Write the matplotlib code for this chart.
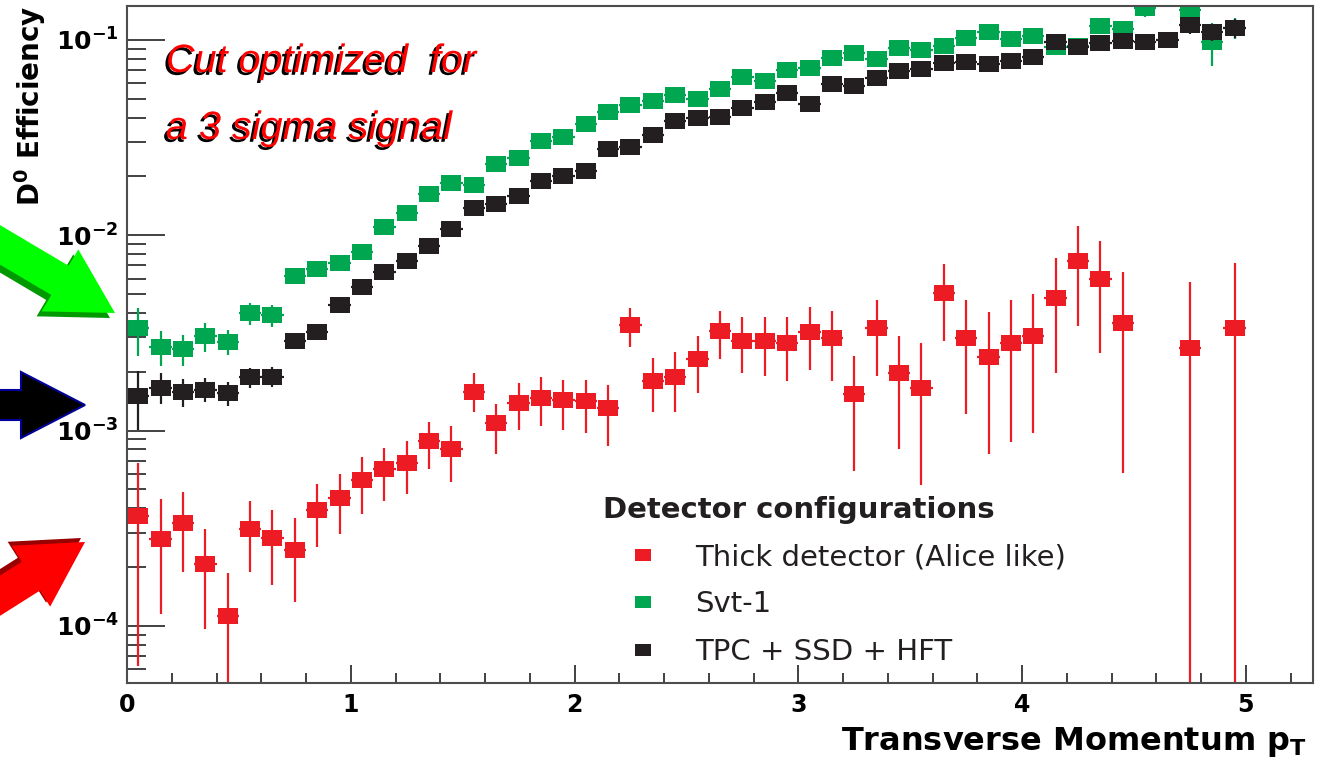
import numpy as np
import matplotlib
matplotlib.use("Agg")
import matplotlib.pyplot as plt
import matplotlib.patheffects as pe
from matplotlib.patches import FancyArrow
from matplotlib.lines import Line2D
from matplotlib.ticker import MultipleLocator, LogLocator, NullFormatter, FuncFormatter

# bin centres (GeV/c)
pt = [0.05, 0.15, 0.25, 0.35, 0.45, 0.55, 0.65, 0.75, 0.85, 0.95,
      1.05, 1.15, 1.25, 1.35, 1.45, 1.55, 1.65, 1.75, 1.85, 1.95,
      2.05, 2.15, 2.25, 2.35, 2.45, 2.55, 2.65, 2.75, 2.85, 2.95,
      3.05, 3.15, 3.25, 3.35, 3.45, 3.55, 3.65, 3.75, 3.85, 3.95,
      4.05, 4.15, 4.25, 4.35, 4.45, 4.55, 4.65, 4.75, 4.85, 4.95]

# Svt-1
svt_eff = [3.33e-3, 2.69e-3, 2.60e-3, 3.03e-3, 2.85e-3, 4.0e-3, 3.9e-3, 6.2e-3, 6.75e-3, 7.2e-3,
           8.2e-3, 1.10e-2, 1.30e-2, 1.63e-2, 1.86e-2, 1.81e-2, 2.32e-2, 2.49e-2, 3.04e-2, 3.19e-2,
           3.72e-2, 4.28e-2, 4.65e-2, 4.88e-2, 5.24e-2, 4.99e-2, 5.61e-2, 6.47e-2, 6.17e-2, 7.03e-2,
           7.2e-2, 8.1e-2, 8.6e-2, 8.0e-2, 9.1e-2, 8.89e-2, 9.31e-2, 0.102, 0.110, 0.101,
           0.105, 0.092, 0.093, 0.118, 0.114, 0.146, 0.170, 0.142, 0.0977, 0.115]
svt_rel = [0.28, 0.20, 0.18, 0.17, 0.15, 0.13, 0.13, 0.09, 0.08, 0.08,
           0.07, 0.06, 0.06, 0.05, 0.05, 0.05, 0.05, 0.05, 0.04, 0.04,
           0.04, 0.04, 0.04, 0.04, 0.04, 0.04, 0.04, 0.04, 0.04, 0.04,
           0.04, 0.04, 0.05, 0.05, 0.06, 0.06, 0.06, 0.06, 0.06, 0.07,
           0.07, 0.08, 0.08, 0.09, 0.09, 0.10, 0.10, 0.10, 0.25, 0.12]

# TPC + SSD + HFT
hft_eff = [1.51e-3, 1.66e-3, 1.58e-3, 1.62e-3, 1.56e-3, 1.87e-3, 1.89e-3, 2.88e-3, 3.21e-3, 4.41e-3,
           5.46e-3, 6.50e-3, 7.41e-3, 8.84e-3, 1.08e-2, 1.37e-2, 1.45e-2, 1.59e-2, 1.90e-2, 2.01e-2,
           2.14e-2, 2.77e-2, 2.84e-2, 3.27e-2, 3.85e-2, 3.99e-2, 4.04e-2, 4.49e-2, 4.82e-2, 5.36e-2,
           4.71e-2, 5.96e-2, 5.82e-2, 6.40e-2, 6.94e-2, 7.11e-2, 7.62e-2, 7.71e-2, 7.53e-2, 7.81e-2,
           8.19e-2, 9.77e-2, 9.2e-2, 9.66e-2, 9.89e-2, 9.77e-2, 0.100, 0.119, 0.110, 0.115]
hft_rel = [0.33, 0.18, 0.16, 0.14, 0.14, 0.12, 0.12, 0.09, 0.08, 0.07,
           0.07, 0.06, 0.05, 0.05, 0.05, 0.04, 0.04, 0.04, 0.04, 0.04,
           0.04, 0.04, 0.04, 0.04, 0.04, 0.04, 0.04, 0.04, 0.04, 0.04,
           0.04, 0.04, 0.04, 0.04, 0.04, 0.05, 0.05, 0.05, 0.05, 0.05,
           0.06, 0.07, 0.07, 0.08, 0.08, 0.09, 0.09, 0.10, 0.10, 0.11]

# Thick detector (Alice like) - only filled bins
thick_pt = [0.05, 0.15, 0.25, 0.35, 0.45, 0.55, 0.65, 0.75, 0.85, 0.95,
            1.05, 1.15, 1.25, 1.35, 1.45, 1.55, 1.65, 1.75, 1.85, 1.95,
            2.05, 2.15, 2.25, 2.35, 2.45, 2.55, 2.65, 2.75, 2.85, 2.95,
            3.05, 3.15, 3.25, 3.35, 3.45, 3.55, 3.65, 3.75, 3.85, 3.95,
            4.05, 4.15, 4.25, 4.35, 4.45, 4.75, 4.95]
thick_eff = [3.67e-4, 2.80e-4, 3.38e-4, 2.07e-4, 1.12e-4, 3.15e-4, 2.81e-4, 2.46e-4, 3.94e-4, 4.54e-4,
             5.61e-4, 6.32e-4, 6.86e-4, 8.79e-4, 8.09e-4, 1.58e-3, 1.09e-3, 1.39e-3, 1.47e-3, 1.44e-3,
             1.41e-3, 1.30e-3, 3.48e-3, 1.80e-3, 1.89e-3, 2.31e-3, 3.25e-3, 2.88e-3, 2.88e-3, 2.82e-3,
             3.21e-3, 2.99e-3, 1.53e-3, 3.33e-3, 1.96e-3, 1.66e-3, 5.08e-3, 2.99e-3, 2.39e-3, 2.79e-3,
             3.03e-3, 4.79e-3, 7.41e-3, 6.0e-3, 3.56e-3, 2.66e-3, 3.36e-3]
thick_lo = [6.2e-5, 1.15e-4, 1.88e-4, 9.6e-5, 1e-6, 1.88e-4, 1.61e-4, 1.33e-4, 2.52e-4, 2.94e-4,
            3.76e-4, 4.34e-4, 4.71e-4, 6.39e-4, 5.48e-4, 1.24e-3, 7.54e-4, 1.01e-3, 1.05e-3, 1.01e-3,
            9.66e-4, 8.38e-4, 2.69e-3, 1.24e-3, 1.25e-3, 1.56e-3, 2.31e-3, 1.98e-3, 1.91e-3, 1.80e-3,
            2.05e-3, 1.80e-3, 6.24e-4, 1.91e-3, 8.0e-4, 5.24e-4, 2.88e-3, 1.21e-3, 7.54e-4, 8.78e-4,
            9.66e-4, 1.98e-3, 3.44e-3, 2.48e-3, 6.03e-4, 1e-6, 1e-6]
thick_hi = [6.78e-4, 4.44e-4, 4.82e-4, 3.15e-4, 1.86e-4, 4.34e-4, 3.94e-4, 3.55e-4, 5.30e-4, 5.96e-4,
            7.36e-4, 8.18e-4, 8.89e-4, 1.11e-3, 1.05e-3, 1.96e-3, 1.37e-3, 1.76e-3, 1.87e-3, 1.82e-3,
            1.82e-3, 1.72e-3, 4.26e-3, 2.36e-3, 2.51e-3, 3.03e-3, 4.11e-3, 3.79e-3, 3.79e-3, 3.79e-3,
            4.31e-3, 4.11e-3, 2.42e-3, 4.68e-3, 3.06e-3, 2.79e-3, 7.14e-3, 4.68e-3, 4.02e-3, 4.68e-3,
            5.02e-3, 7.67e-3, 1.12e-2, 9.37e-3, 6.50e-3, 5.78e-3, 7.23e-3]

labels = ["Thick detector (Alice like)", "Svt-1", "TPC + SSD + HFT"]
RED, GREEN, BLACK = "#ED1C24", "#00A650", "#231F20"
bin_half = 0.05

# wide rectangular marker like the stretched ROOT squares
rect = [(-1.35, -1), (1.35, -1), (1.35, 1), (-1.35, 1), (-1.35, -1)]

fig = plt.figure(figsize=(13.22, 7.67), dpi=100)
ax = fig.add_axes([127 / 1322, 84 / 767, 1186 / 1322, 677 / 767])
ax.set_yscale("log")

te = np.array(thick_eff)
ax.errorbar(thick_pt, te, xerr=bin_half,
            yerr=[te - np.array(thick_lo), np.array(thick_hi) - te],
            fmt="none", ecolor=RED, elinewidth=1.6, capsize=0)
ax.plot(thick_pt, te, linestyle="none", marker=rect, ms=15, color=RED, mew=0)

se = np.array(svt_eff)
ax.errorbar(pt, se, xerr=bin_half, yerr=se * np.array(svt_rel),
            fmt="none", ecolor=GREEN, elinewidth=1.6, capsize=0)
ax.plot(pt, se, linestyle="none", marker=rect, ms=15, color=GREEN, mew=0)

he = np.array(hft_eff)
ax.errorbar(pt, he, xerr=bin_half, yerr=he * np.array(hft_rel),
            fmt="none", ecolor=BLACK, elinewidth=1.6, capsize=0)
ax.plot(pt, he, linestyle="none", marker=rect, ms=15, color=BLACK, mew=0)

ax.set_xlim(0, 5.30)
ax.set_ylim(5.1e-5, 0.149)

for s in ax.spines.values():
    s.set_color("#4d4d4d")
    s.set_linewidth(1.5)

ax.xaxis.set_major_locator(MultipleLocator(1))
ax.xaxis.set_minor_locator(MultipleLocator(0.2))
ax.yaxis.set_major_locator(LogLocator(base=10))
ax.yaxis.set_minor_locator(LogLocator(base=10, subs=range(2, 10)))
ax.yaxis.set_minor_formatter(NullFormatter())
ax.yaxis.set_major_formatter(FuncFormatter(lambda v, p: r"$\mathbf{10^{%d}}$" % round(np.log10(v))))
ax.xaxis.set_major_formatter(FuncFormatter(lambda v, p: "%d" % v))

ax.tick_params(which="both", direction="in", top=False, right=False, color="#333333", width=1.3)
ax.tick_params(axis="x", which="major", length=13, pad=7, labelsize=17)
ax.tick_params(axis="x", which="minor", length=7)
ax.tick_params(axis="y", which="major", length=27, pad=6, labelsize=18)
ax.tick_params(axis="y", which="minor", length=14)
for t in ax.get_xticklabels():
    t.set_fontweight("bold")

ax.set_xlabel(r"Transverse Momentum $\mathbf{p_{T}}$", loc="right", fontsize=23, fontweight="bold")
ax.xaxis.set_label_coords(0.995, -0.062)
ax.set_ylabel(r"$\mathbf{D^{0}}$ Efficiency", loc="top", fontsize=20, fontweight="bold")
ax.yaxis.set_label_coords(-0.067, 1.0)

handles = [Line2D([], [], linestyle="none", marker=rect, ms=12, color=c, mew=0)
           for c in (RED, GREEN, BLACK)]
leg = ax.legend(handles, labels, title="Detector configurations",
                loc="upper left", bbox_to_anchor=(603 / 1322, 1 - 496 / 767),
                bbox_transform=fig.transFigure, frameon=False, fontsize=21,
                title_fontproperties={"weight": "bold", "size": 21},
                alignment="left", handlelength=2.74, handletextpad=0.42,
                labelspacing=0.66, borderpad=0, borderaxespad=0)
for t in leg.get_texts():
    t.set_color(BLACK)
leg.get_title().set_color(BLACK)

shadow = [pe.withSimplePatchShadow(offset=(-2.0, -2.0), shadow_rgbFace="black", alpha=1.0)]
for txt, ybase in (("Cut optimized  for", 72), ("a 3 sigma signal", 139)):
    fig.text(166 / 1322, 1 - ybase / 767, txt, color="#FF0000", fontsize=28.5, style="italic",
             family=["Liberation Sans Narrow", "Liberation Sans"], va="baseline", ha="left",
             path_effects=shadow)

# arrows pointing at the three curves (coordinates in inches)
tr = fig.dpi_scale_trans
arrows = [
    # tail x, tail y, dx, dy, body colour, shadow colour, shadow offset
    (-0.20, 5.34, 1.35, -0.80, "#00FF00", "#009900", (-0.05, -0.05)),
    (-0.40, 1.46, 1.25, 0.79, "#FF0000", "#990000", (-0.04, 0.04)),
]
for x0, y0, dx, dy, col, scol, off in arrows:
    fig.add_artist(FancyArrow(x0 + off[0], y0 + off[1], dx, dy, width=0.34, head_width=0.72,
                              head_length=0.64, length_includes_head=True, transform=tr,
                              color=scol, lw=0))
    fig.add_artist(FancyArrow(x0, y0, dx, dy, width=0.34, head_width=0.72,
                              head_length=0.64, length_includes_head=True, transform=tr,
                              color=col, lw=0))
fig.add_artist(FancyArrow(-0.10, 3.62, 0.95, 0.0, width=0.30, head_width=0.66,
                          head_length=0.64, length_includes_head=True, transform=tr,
                          facecolor="black", edgecolor="#000099", lw=1.5))

fig.savefig("out.png", dpi=100)
